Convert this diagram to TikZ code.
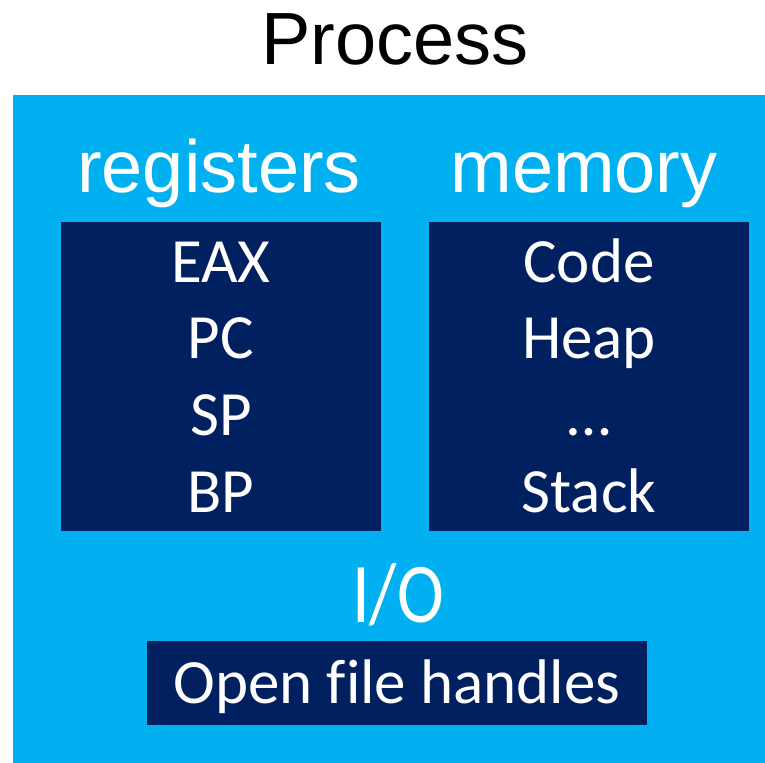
\documentclass[tikz,border=0pt]{standalone}
\usepackage{fontspec}
\setmainfont{Liberation Sans}
\newfontfamily\calib[Ligatures=NoCommon]{Carlito}
\definecolor{procblue}{HTML}{00B0F0}
\definecolor{navy}{HTML}{002060}
\begin{document}
\begin{tikzpicture}[x=1bp,y=-1bp,
  arial/.style={text=black,anchor=base,inner sep=0pt,font=\fontsize{74bp}{80bp}\selectfont},
  head/.style={text=white,anchor=base,inner sep=0pt,font=\fontsize{74bp}{80bp}\selectfont},
  item/.style={text=white,anchor=base,inner sep=0pt,font=\calib\fontsize{63bp}{70bp}\selectfont},
  io/.style={text=white,anchor=base,inner sep=0pt,xscale=0.83,font=\calib\fontsize{85bp}{90bp}\selectfont}]
\useasboundingbox (0,0) rectangle (765,763);
\fill[procblue] (13,95) rectangle (765,763);
\node[arial] (title) at (395,65) {Process};
\node[head] (reghead) at (219,192) {registers};
\node[head] (memhead) at (584,192) {memory};
\fill[navy] (61,221.5) rectangle (381,531);
\fill[navy] (429,221.5) rectangle (749,531);
\node[item] (eax) at (221,282) {EAX};
\node[item] (pc) at (221,358.5) {PC};
\node[item] (sp) at (221,435) {SP};
\node[item] (bp) at (221,512) {BP};
\node[item] (code) at (589,282) {Code};
\node[item] (heap) at (589,358.5) {Heap};
\node[item] (dots) at (589,435) {…};
\node[item] (stack) at (589,512) {Stack};
\node[io] (io) at (398,622) {I/O};
\fill[navy] (147,641) rectangle (647,725);
\node[item] (files) at (397,703) {Open file handles};
\end{tikzpicture}
\end{document}
